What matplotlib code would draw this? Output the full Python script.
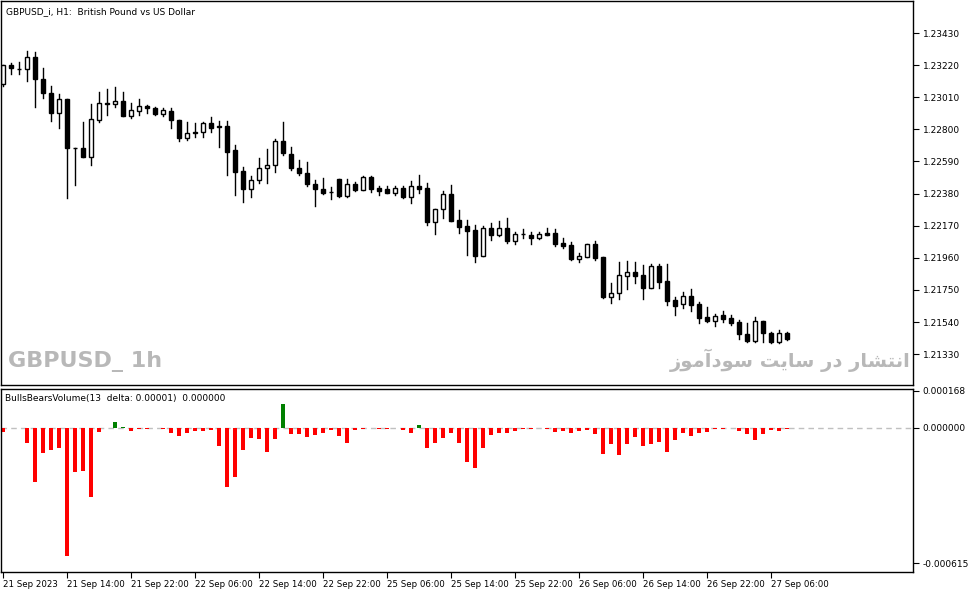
import matplotlib
matplotlib.use("Agg")
import matplotlib.pyplot as plt
from matplotlib.patches import Rectangle
import numpy as np

# OHLC in 1e-5 price units
opens = [123097,123221,123195,123195,123273,123129,123038,122907,122998,122678,122678,122619,122861,122972,122966,122985,122887,122920,122953,122940,
         122900,122920,122861,122743,122783,122783,122842,122822,122822,122665,122528,122410,122469,122547,122567,122724,122639,122547,122515,122443,
         122410,122390,122475,122364,122443,122403,122488,122417,122410,122384,122417,122358,122430,122417,122194,122279,122377,122207,122168,122142,
         121972,122155,122109,122155,122070,122116,122109,122089,122122,122122,122057,122044,121952,121965,122050,121965,121704,121730,121841,121867,
         121847,121762,121906,121808,121684,121658,121710,121658,121573,121547,121586,121566,121540,121462,121416,121547,121468,121409,121468]
highs = [123221,123234,123240,123312,123306,123201,123084,123031,122998,122680,122848,122966,123044,123064,123077,123044,122972,122998,122959,122946,
         122940,122940,122861,122848,122842,122848,122881,122855,122855,122698,122554,122495,122613,122671,122737,122848,122685,122600,122586,122469,
         122482,122423,122475,122475,122456,122495,122495,122430,122430,122430,122430,122462,122501,122449,122279,122397,122436,122273,122207,122175,
         122168,122188,122201,122220,122129,122148,122129,122129,122155,122148,122089,122063,121991,122050,122070,121965,121795,121932,121939,121932,
         121913,121919,121919,121919,121704,121736,121756,121671,121638,121592,121612,121586,121553,121534,121573,121547,121475,121488,121475]
lows = [123084,123162,123162,123116,122946,123005,122855,122809,122351,122436,122619,122567,122848,122894,122946,122887,122874,122894,122907,122894,
        122887,122809,122724,122730,122750,122750,122783,122685,122501,122371,122325,122358,122449,122449,122521,122632,122534,122501,122430,122299,
        122377,122345,122358,122358,122397,122403,122390,122371,122384,122371,122351,122318,122384,122175,122116,122220,122201,122122,121978,121932,
        121972,122076,122103,122057,122050,122089,122050,122083,122109,122037,122024,121946,121932,121965,121946,121697,121664,121690,121756,121795,
        121690,121762,121762,121651,121586,121632,121612,121534,121540,121514,121540,121520,121429,121409,121409,121409,121403,121403,121422]
closes = [123221,123201,123197,123273,123129,123038,122907,122998,122678,122676,122619,122868,122972,122966,122985,122887,122927,122953,122940,122900,
          122927,122861,122743,122776,122776,122842,122809,122815,122652,122521,122410,122469,122547,122567,122724,122645,122547,122515,122443,122410,
          122384,122388,122364,122443,122403,122488,122410,122397,122384,122417,122358,122430,122410,122194,122279,122377,122201,122161,122135,121972,
          122155,122109,122155,122070,122116,122114,122089,122116,122109,122050,122037,121952,121972,122050,121959,121704,121730,121847,121867,121841,
          121762,121906,121802,121677,121645,121710,121651,121566,121547,121579,121560,121534,121462,121416,121547,121468,121409,121468,121429]

# BullsBearsVolume histogram in 1e-6 units
hist = [-18,-2,-2,-68,-246,-114,-100,-91,-582,-200,-196,-314,-18,-1,27,2,-14,-5,-5,-1,
        -5,-23,-36,-23,-14,-14,-9,-82,-268,-223,-100,-46,-50,-109,-50,109,-27,-27,-41,-32,
        -23,-9,-36,-68,-9,-5,-1,-5,-5,-1,-9,-23,14,-91,-68,-46,-23,-68,-155,-182,
        -91,-32,-23,-23,-14,-5,-5,-1,-5,-18,-14,-23,-14,-9,-27,-118,-73,-123,-73,-41,
        -82,-73,-64,-109,-55,-23,-36,-23,-18,-5,-5,-1,-14,-27,-55,-27,-9,-14,-5]

price_ticks = [1.23430,1.23220,1.23010,1.22800,1.22590,1.22380,1.22170,1.21960,1.21750,1.21540,1.21330]
ind_ticks = [0.000168, 0.0, -0.000615]
ind_tick_labels = ["0.000168", "0.000000", "-0.000615"]
date_idx = [0,8,16,24,32,40,48,56,64,72,80,88,96]
date_labels = ["21 Sep 2023","21 Sep 14:00","21 Sep 22:00","22 Sep 06:00","22 Sep 14:00","22 Sep 22:00",
               "25 Sep 06:00","25 Sep 14:00","25 Sep 22:00","26 Sep 06:00","26 Sep 14:00","26 Sep 22:00","27 Sep 06:00"]

W, H = 979, 593
fig = plt.figure(figsize=(W/100, H/100), dpi=100)
def rect(x0, y0, x1, y1):
    return [x0/W, 1-y1/H, (x1-x0)/W, (y1-y0)/H]

ax = fig.add_axes(rect(1, 1, 913, 385))
ax2 = fig.add_axes(rect(1, 389, 913, 572))

o = np.array(opens)/1e5; h = np.array(highs)/1e5; l = np.array(lows)/1e5; c = np.array(closes)/1e5
n = len(o)
x = np.arange(n)
bw = 0.58
for i in range(n):
    ax.plot([x[i], x[i]], [l[i], h[i]], color="black", lw=1, zorder=1)
    lo, hi = min(o[i], c[i]), max(o[i], c[i])
    hgt = max(hi-lo, 0.00002)
    fc = "white" if c[i] > o[i] else "black"
    ax.add_patch(Rectangle((x[i]-bw/2, lo), bw, hgt, facecolor=fc, edgecolor="black", lw=1, zorder=2))

ax.set_xlim(-0.25, 113.75)
ax.set_ylim(1.211280, 1.236395)
ax.yaxis.tick_right()
ax.set_yticks(price_ticks)
ax.set_yticklabels([f"{t:.5f}" for t in price_ticks], fontsize=6.5)
ax.set_xticks([])
ax.tick_params(axis="y", length=4, width=0.8, pad=3)
ax.text(0.006, 0.985, "GBPUSD_i, H1:  British Pound vs US Dollar", transform=ax.transAxes,
        fontsize=6.5, va="top", ha="left")
ax.text(0.008, 0.035, "GBPUSD_ 1h", transform=ax.transAxes, fontsize=16, fontweight="bold",
        color="#b8b8b8", va="bottom", ha="left")
fa = "\uFEAF\uFEEE\uFEE3\uFE81\uFEA9\uFEEE\uFEB3 \uFE96\uFBFE\uFE8E\uFEB3 \uFEAD\uFEA9 \uFEAD\uFE8E\uFEB8\uFE98\uFEE7\uFE8D"
ax.text(0.997, 0.035, fa, transform=ax.transAxes, fontsize=14, fontweight="bold",
        color="#b8b8b8", va="bottom", ha="right", family=["DejaVu Sans", "Noto Sans"])

hv = np.array(hist)/1e6
cols = ["#008000" if v > 0 else "#ff0000" for v in hv]
ax2.bar(x, hv, width=0.5, color=cols, zorder=2)
ax2.axhline(0, color="#c0c0c0", lw=1, ls=(0, (4, 3)), zorder=1)
ax2.set_xlim(-0.25, 113.75)
ax2.set_ylim(-0.000655, 0.000177)
ax2.yaxis.tick_right()
ax2.set_yticks(ind_ticks)
ax2.set_yticklabels(ind_tick_labels, fontsize=6.5)
ax2.tick_params(axis="y", length=4, width=0.8, pad=3)
ax2.set_xticks(date_idx)
ax2.set_xticklabels(date_labels, fontsize=6.2, ha="left")
ax2.tick_params(axis="x", length=4, width=0.8, pad=2)
ax2.text(0.004, 0.97, "BullsBearsVolume(13  delta: 0.00001)  0.000000", transform=ax2.transAxes,
         fontsize=6.5, va="top", ha="left")
for a in (ax, ax2):
    for s in a.spines.values():
        s.set_linewidth(1)

fig.savefig("out.png", dpi=100)
